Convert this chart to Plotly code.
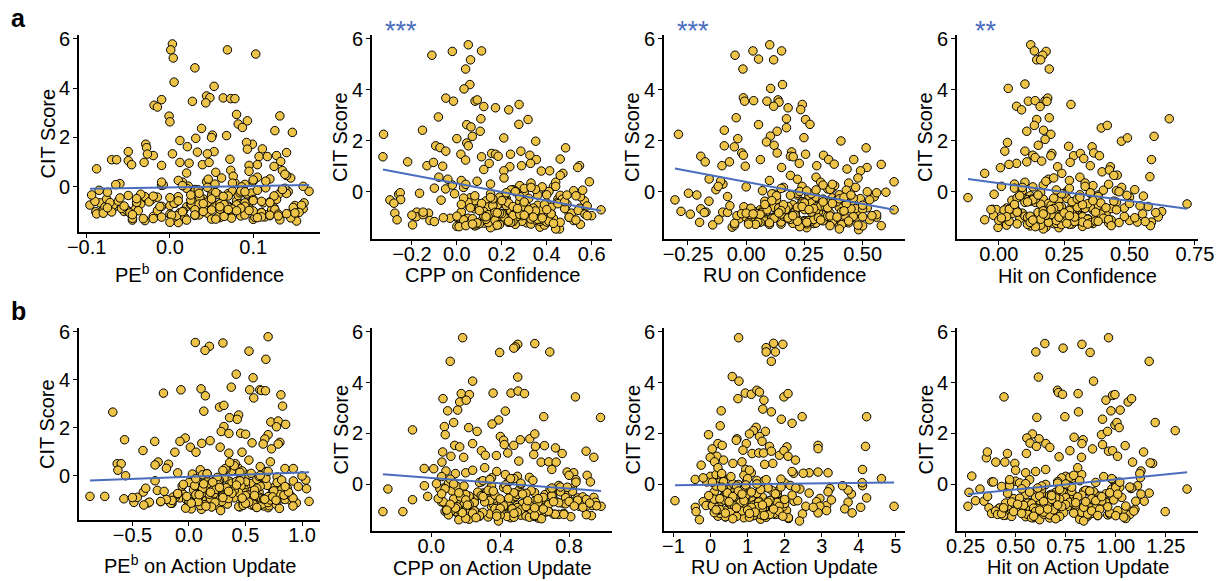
import plotly.graph_objects as go

W, H = 1221, 581

# ---------------- data ----------------
# CIT scores of the dense low cluster (shared by all panels)
cit_low = [
    -0.82, 0.12, -1.05, -0.35, -1.21, 0.45, -0.63, -0.94, -0.12, -1.33,
    -0.71, -0.28, -1.12, 0.31, -0.88, -0.50, -1.02, 0.05, -0.77, -1.26,
    -0.41, -0.99, 0.22, -1.15, -0.60, -0.19, -0.86, -1.38, 0.58, -0.67,
    -1.08, -0.33, -0.79, 0.18, -1.19, -0.55, -0.92, -0.05, -1.29, -0.73,
    0.38, -0.97, -0.45, -1.10, -0.23, -0.84, 0.09, -1.24, -0.62, -1.01,
    -0.38, -1.17, -0.70, 0.27, -0.90, -1.32, -0.15, -0.58, -1.06, 0.65,
    -0.80, -1.22, -0.30, -0.96, 0.02, -0.66, -1.14, -0.48, -0.87, -1.40,
    0.15, -0.75, -1.03, -0.26, -1.18, -0.52, -0.93, 0.35, -0.69, -1.27,
    -0.43, -1.09, -0.09, -0.83, -1.20, 0.50, -0.61, -0.98, -0.36, -1.13,
    -0.74, 0.07, -1.25, -0.57, -0.89, -0.20, -1.04, 0.25, -0.78, -1.30,
    -0.47, -0.95, -0.65, 0.42, -1.16, -0.32, -0.85, -1.07, -0.01, -0.72,
    -1.23, -0.53, 0.20, -0.91, -1.11, -0.40, -0.68, -1.35, 0.10, -0.81,
    -0.25, -1.00, -0.59, -1.19, 0.30, -0.76, -0.44, -1.28, -0.13, -0.93,
    -0.64, -1.15, 0.55, -0.87, -0.34, -1.06, -0.54, -1.45, -0.07, -0.79,
]
cit_low2 = [
    -0.92, -0.41, -1.18, -0.07, -0.66, -1.03, -0.28, -0.85, -1.24, -0.52,
    0.14, -0.77, -1.12, -0.36, -0.95, -0.60, -1.30, -0.18, -0.71, -1.05,
    -0.46, -0.89, 0.04, -1.16, -0.63, -0.31, -0.99, -1.21, -0.55, -0.11,
    -0.80, -1.08, -0.24, -0.68, 0.22, -0.94, -1.27, -0.43, -0.74, -1.01,
    -0.58, -0.15, -1.14, -0.83, -0.38, -1.36, -0.70, 0.08, -0.97, -0.50,
    -1.19, -0.27, -0.88, -0.62, -1.07, -0.03, -0.79, -1.23, -0.45, -0.91,
    -0.34, -1.10, -0.73, 0.18, -0.57, -1.32, -0.86, -0.21, -1.02, -0.65,
    -0.98, -0.49, -1.15, -0.12, -0.82, -0.39, -1.26, -0.69, 0.01, -0.93,
]

# Panel 1: PE^b on Confidence
p1_x_hi = [0.003, 0.001, 0.004, 0.069, 0.103, 0.030, 0.005, 0.053, 0.044, 0.048,
           0.043, 0.027, 0.064, 0.073, 0.078, -0.010, -0.019, -0.015, -0.001, 0.000,
           0.080, 0.093, 0.082, 0.087, 0.132, 0.126, 0.147, 0.038, 0.031, 0.051,
           0.068, 0.050, 0.012, -0.029, -0.028, 0.021, 0.099, 0.092, 0.111, 0.093,
           -0.050, 0.053, 0.033, 0.045, 0.003, 0.140, 0.128, 0.107, 0.117, -0.020,
           -0.027, -0.070, -0.064, -0.050, -0.046, -0.088, -0.031, -0.010, 0.012, 0.023,
           0.039, 0.047, 0.072, 0.095, 0.105, 0.133, 0.125, 0.095, 0.073, 0.145,
           -0.096, -0.089, -0.084, -0.076, -0.045, 0.010, 0.149, 0.156, 0.167, 0.161]
p1_y_hi = [5.79, 5.55, 5.22, 5.55, 5.38, 4.82, 4.24, 4.07, 3.68, 3.61,
           3.40, 3.46, 3.60, 3.57, 3.57, 3.53, 3.30, 3.23, 2.86, 2.63,
           2.93, 2.67, 2.54, 2.40, 2.87, 2.27, 2.20, 2.36, 1.96, 2.09,
           2.07, 1.99, 1.87, 1.72, 1.58, 1.62, 1.72, 1.79, 1.53, 1.52,
           1.42, 1.42, 1.40, 1.33, 1.33, 1.38, 1.26, 1.22, 1.22, 1.26,
           1.32, 1.09, 1.09, 1.05, 0.89, 0.72, 0.98, 0.86, 0.98, 0.95,
           0.89, 0.98, 1.11, 0.86, 0.89, 1.02, 0.82, 0.62, 0.66, 0.35,
           -0.75, -1.02, -0.66, -0.50, -1.36, -1.46, -1.17, -0.93, -0.19, -0.66]
p1_x_lo = [0.02, -0.06, 0.11, 0.05, -0.02, 0.14, 0.08, -0.08, 0.03, 0.10,
           -0.04, 0.07, 0.00, 0.12, -0.07, 0.04, 0.09, -0.01, 0.15, 0.06,
           0.01, -0.05, 0.10, 0.035, -0.09, 0.075, 0.125, -0.03, 0.055, 0.095,
           0.045, 0.13, -0.065, 0.015, 0.085, -0.025, 0.06, 0.115, -0.045, 0.025,
           0.105, -0.015, 0.065, 0.145, -0.075, 0.04, 0.09, 0.005, 0.12, -0.055,
           0.07, 0.03, -0.035, 0.10, 0.16, 0.05, -0.085, 0.08, 0.012, 0.135,
           -0.01, 0.058, 0.092, -0.052, 0.022, 0.112, 0.068, -0.028, 0.042, 0.152,
           0.078, -0.068, 0.032, 0.098, 0.008, 0.128, -0.042, 0.062, 0.088, 0.018,
           -0.018, 0.108, 0.048, -0.078, 0.072, 0.138, 0.028, -0.038, 0.082, 0.118,
           0.052, -0.008, 0.102, 0.038, -0.058, 0.142, 0.066, 0.01, 0.094, -0.032,
           0.036, 0.122, -0.072, 0.076, 0.002, 0.058, 0.148, -0.048, 0.086, 0.026,
           0.114, -0.022, 0.044, 0.096, -0.088, 0.064, 0.006, 0.132, 0.054, -0.012,
           0.084, 0.016, -0.062, 0.106, 0.046, 0.158, -0.03, 0.074, 0.034, 0.126,
           -0.04, 0.09, 0.02, 0.062, -0.094, 0.11, 0.05, 0.00, 0.138, 0.07]
p1_x_lo2 = [0.06, -0.03, 0.12, 0.02, 0.09, -0.07, 0.14, 0.04, -0.01, 0.10,
            0.075, 0.00, 0.13, -0.05, 0.05, 0.11, -0.02, 0.085, 0.035, 0.155,
            -0.06, 0.07, 0.015, 0.12, 0.045, -0.035, 0.10, 0.065, 0.025, 0.135,
            0.09, -0.08, 0.055, 0.005, 0.115, 0.03, 0.145, -0.015, 0.08, 0.04,
            0.01, 0.105, -0.045, 0.07, 0.125, 0.02, 0.06, -0.065, 0.095, 0.05,
            0.13, 0.035, 0.085, -0.025, 0.15, 0.045, -0.055, 0.11, 0.00, 0.075,
            0.025, 0.14, 0.065, -0.01, 0.10, 0.055, -0.075, 0.09, 0.015, 0.12,
            0.08, -0.04, 0.03, 0.135, 0.06, -0.02, 0.105, 0.04, 0.16, 0.07]

# Panel 2: CPP on Confidence
p2_x_hi = [0.051, 0.110, -0.020, -0.111, 0.061, 0.039, 0.058, 0.032, -0.049, -0.015,
           0.081, 0.091, 0.120, 0.172, 0.231, 0.277, 0.107, -0.082, 0.317, 0.276,
           0.044, 0.063, 0.069, 0.104, -0.153, -0.326, 0.000, 0.209, 0.351, 0.044,
           0.051, -0.094, -0.075, -0.049, 0.285, 0.484, 0.018, 0.155, 0.172, 0.239,
           0.184, 0.110, 0.325, 0.354, 0.460, 0.039, 0.144, -0.329, -0.219, -0.133,
           -0.104, -0.063, 0.288, 0.328, 0.546, 0.538, 0.590, 0.376, 0.413, 0.472,
           0.120, 0.236, 0.209,
           -0.298, -0.276, -0.266, -0.259, -0.252, -0.197, -0.178, -0.126, -0.166, 0.642,
           0.568, 0.546, 0.457]
p2_y_hi = [5.77, 5.53, 5.51, 5.36, 5.18, 4.82, 4.21, 4.04, 3.68, 3.56,
           3.56, 3.61, 3.35, 3.30, 3.22, 3.43, 2.87, 2.94, 2.84, 2.65,
           2.64, 2.55, 2.18, 2.38, 2.42, 2.26, 2.09, 2.12, 1.99, 1.92,
           1.81, 1.81, 1.74, 1.60, 1.60, 1.73, 1.48, 1.51, 1.48, 1.48,
           1.40, 1.38, 1.44, 1.27, 1.29, 1.25, 1.12, 1.38, 1.18, 1.03,
           1.16, 1.01, 1.03, 1.12, 1.03, 0.96, 0.40, 0.82, 0.83, 0.73,
           0.88, 0.99, 0.83,
           -0.31, -0.83, -1.09, -0.09, -0.03, -1.29, -0.79, -0.83, -0.05, -0.70,
           -0.35, -0.64, -1.45]
p2_x_lo = [0.22, -0.05, 0.41, 0.13, 0.31, 0.02, 0.48, 0.18, 0.36, 0.08,
           0.27, 0.45, -0.12, 0.15, 0.39, 0.05, 0.24, 0.52, 0.11, 0.33,
           0.19, 0.00, 0.43, 0.29, 0.07, 0.55, 0.21, 0.37, -0.08, 0.26,
           0.12, 0.47, 0.34, 0.03, 0.23, 0.58, 0.16, 0.40, 0.09, 0.30,
           0.44, -0.18, 0.20, 0.35, 0.06, 0.50, 0.25, 0.14, 0.38, 0.01,
           0.28, 0.42, 0.10, -0.02, 0.32, 0.17, 0.53, 0.23, 0.04, 0.46,
           0.35, 0.12, -0.25, 0.27, 0.41, 0.08, 0.20, 0.49, 0.30, 0.15,
           -0.10, 0.37, 0.05, 0.22, 0.44, 0.18, 0.60, 0.33, 0.10, 0.26,
           0.40, 0.03, 0.29, 0.51, 0.14, -0.04, 0.36, 0.21, 0.47, 0.11,
           0.24, 0.56, 0.07, 0.31, -0.15, 0.19, 0.43, 0.28, 0.02, 0.39,
           0.16, 0.34, 0.48, 0.09, 0.25, -0.07, 0.42, 0.13, 0.30, 0.54,
           0.06, 0.22, 0.38, -0.20, 0.17, 0.45, 0.27, 0.00, 0.35, 0.12,
           0.32, 0.50, 0.14, 0.24, 0.04, 0.40, -0.28, 0.19, 0.46, 0.29,
           0.10, 0.37, 0.21, 0.57, 0.08, 0.33, 0.16, 0.44, -0.01, 0.26]
p2_x_lo2 = [0.25, 0.05, 0.40, 0.15, 0.33, -0.03, 0.47, 0.20, 0.10, 0.36,
            0.30, 0.12, 0.52, 0.22, 0.00, 0.42, 0.18, 0.28, 0.38, 0.07,
            0.45, 0.14, 0.26, -0.10, 0.34, 0.21, 0.50, 0.09, 0.31, 0.40,
            0.17, 0.37, 0.03, 0.27, 0.44, 0.12, 0.55, 0.23, 0.35, -0.06,
            0.29, 0.08, 0.41, 0.19, 0.48, 0.01, 0.32, 0.24, 0.13, 0.39,
            0.46, 0.16, 0.28, 0.06, 0.36, 0.22, -0.15, 0.43, 0.11, 0.30,
            0.20, 0.53, 0.10, 0.33, 0.25, 0.04, 0.42, 0.15, 0.38, 0.27,
            0.34, 0.02, 0.23, 0.49, 0.18, 0.30, 0.07, 0.40, 0.26, 0.58]

# Panel 3: RU on Confidence
p3_x_hi = [0.101, 0.029, 0.152, -0.048, 0.053, 0.118, -0.014, 0.156, 0.105, -0.012,
           -0.007, 0.032, 0.089, 0.137, 0.141, 0.118, 0.180, 0.241, 0.234, -0.043,
           0.053, 0.255, 0.274, 0.173, 0.173, 0.133, 0.104, 0.087, -0.291, -0.094,
           -0.036, 0.248, 0.407, 0.120, -0.094, -0.051, 0.515, -0.019, -0.012, 0.133,
           0.195, 0.190, 0.202, 0.255, 0.332, -0.195, -0.176, -0.104, -0.072, -0.004,
           0.061, 0.152, 0.228, 0.303, 0.354, 0.378, 0.462, 0.519, 0.580, 0.433,
           0.491, 0.635, -0.159,
           -0.306, -0.248, -0.212, -0.195, -0.173, -0.144, -0.118, -0.101, 0.635, 0.560,
           0.483]
p3_y_hi = [5.77, 5.53, 5.53, 5.36, 5.21, 5.18, 4.82, 4.21, 4.06, 3.69,
           3.56, 3.58, 3.56, 3.61, 3.52, 3.36, 3.30, 3.43, 3.23, 2.91,
           2.64, 2.84, 2.65, 2.87, 2.52, 2.38, 2.19, 1.96, 2.26, 2.42,
           2.09, 2.13, 2.00, 1.83, 1.81, 1.77, 1.73, 1.53, 1.44, 1.53,
           1.57, 1.40, 1.38, 1.48, 1.44, 1.40, 1.18, 1.03, 1.18, 1.01,
           1.27, 0.96, 1.12, 1.03, 1.27, 1.09, 1.27, 0.96, 1.08, 0.90,
           0.83, 0.40, 0.51,
           -0.31, -0.05, -0.12, -0.66, -0.79, -1.29, -1.09, -0.79, -0.70, -0.99,
           -1.48]
p3_x_lo = [0.18, 0.35, -0.03, 0.27, 0.44, 0.10, 0.31, 0.05, 0.22, 0.50,
           0.13, 0.39, 0.25, -0.10, 0.33, 0.20, 0.47, 0.07, 0.29, 0.15,
           0.41, 0.00, 0.24, 0.36, 0.12, 0.55, 0.19, -0.06, 0.30, 0.43,
           0.09, 0.26, 0.48, 0.16, -0.20, 0.34, 0.04, 0.22, 0.40, 0.28,
           0.32, 0.14, 0.45, 0.02, 0.37, 0.21, -0.13, 0.29, 0.52, 0.11,
           0.24, 0.42, 0.06, 0.33, 0.17, 0.58, 0.27, -0.01, 0.38, 0.19,
           -0.08, 0.30, 0.13, 0.46, 0.23, 0.35, 0.08, 0.41, -0.24, 0.26,
           0.37, 0.03, 0.20, 0.49, 0.15, 0.31, -0.04, 0.44, 0.25, 0.10,
           0.28, 0.53, 0.12, 0.36, 0.01, 0.22, 0.40, 0.17, -0.16, 0.33,
           0.07, 0.43, 0.26, 0.18, 0.56, 0.30, 0.11, 0.38, 0.21, -0.05,
           0.34, 0.16, 0.47, -0.11, 0.25, 0.39, 0.05, 0.29, 0.60, 0.14,
           0.20, 0.32, 0.00, 0.42, 0.27, 0.09, 0.50, 0.23, 0.36, -0.18,
           0.45, 0.13, 0.30, 0.06, 0.37, -0.28, 0.24, 0.41, 0.19, 0.54,
           0.02, 0.28, 0.48, 0.15, 0.34, 0.22, -0.07, 0.40, 0.11, 0.31]
p3_x_lo2 = [0.20, 0.38, 0.05, 0.28, 0.45, 0.12, 0.33, -0.02, 0.24, 0.50,
            0.15, 0.41, 0.27, 0.08, 0.35, 0.22, 0.48, -0.08, 0.30, 0.18,
            0.43, 0.02, 0.26, 0.37, 0.14, 0.53, 0.21, 0.10, 0.32, 0.40,
            0.07, 0.29, 0.46, 0.17, -0.12, 0.36, 0.04, 0.25, 0.42, 0.31,
            0.34, 0.13, 0.44, 0.00, 0.39, 0.23, 0.09, 0.30, 0.50, 0.16,
            0.26, 0.40, 0.06, 0.35, 0.19, 0.56, 0.28, -0.05, 0.37, 0.21,
            0.11, 0.32, 0.15, 0.47, 0.24, 0.36, 0.03, 0.42, 0.18, 0.29,
            0.39, 0.08, 0.22, 0.45, 0.14, 0.33, 0.01, 0.27, 0.52, 0.20]

# Panel 4: Hit on Confidence
p4_x_hi = [0.122, 0.136, 0.181, 0.168, 0.145, 0.160, 0.193, 0.100, 0.036, 0.113,
           0.139, 0.177, 0.187, 0.184, 0.158, 0.068, 0.087, 0.276, 0.193, 0.145,
           0.136, 0.171, 0.107, 0.199, 0.177, 0.652, 0.392, 0.415, 0.469, 0.492,
           0.594, 0.033, 0.151, 0.267, 0.023, 0.100, 0.357, 0.363, 0.385, 0.203,
           0.199, 0.130, 0.286, 0.312, 0.325, 0.273, 0.139, 0.164, 0.068, 0.107,
           0.584, 0.350, 0.395, 0.427, 0.423, -0.054, 0.006, 0.039, 0.578, 0.225,
           0.241, 0.453, -0.118, 0.720,
           -0.054, -0.024, -0.018, -0.003, -0.009, 0.623, 0.584, 0.571, 0.553]
p4_y_hi = [5.77, 5.53, 5.51, 5.36, 5.18, 5.18, 4.82, 4.23, 4.06, 3.56,
           3.58, 3.58, 3.68, 3.55, 3.35, 3.36, 3.22, 3.43, 2.91, 2.84,
           2.61, 2.42, 2.38, 2.26, 2.06, 2.87, 2.51, 2.61, 1.99, 2.12,
           2.18, 1.94, 1.83, 1.79, 1.60, 1.60, 1.77, 1.53, 1.42, 1.51,
           1.42, 1.44, 1.42, 1.51, 1.31, 1.16, 1.35, 1.21, 1.12, 1.18,
           1.27, 1.03, 0.79, 0.99, 0.86, 0.73, 0.95, 1.08, 0.60, 0.99,
           0.73, 0.66, -0.22, -0.47,
           -1.09, -0.68, -0.09, -1.39, -0.69, -0.77, -1.18, -0.57, -0.16]
p4_x_lo = [0.21, 0.08, 0.34, 0.15, 0.42, 0.27, 0.03, 0.19, 0.38, 0.12,
           0.30, 0.17, 0.50, 0.06, 0.24, 0.36, 0.11, 0.45, 0.22, 0.28,
           0.14, 0.40, 0.01, 0.26, 0.33, 0.09, 0.55, 0.18, 0.31, 0.20,
           0.37, 0.05, 0.23, 0.47, 0.13, 0.29, -0.02, 0.35, 0.16, 0.25,
           0.10, 0.32, 0.19, 0.43, 0.07, 0.27, 0.52, 0.21, 0.39, 0.14,
           0.28, 0.02, 0.36, 0.17, 0.24, 0.58, 0.12, 0.31, 0.08, 0.44,
           0.20, 0.34, 0.11, 0.48, 0.26, 0.04, 0.30, 0.16, 0.41, 0.23,
           0.06, 0.29, 0.37, 0.13, 0.53, 0.22, 0.18, 0.33, -0.03, 0.27,
           0.35, 0.15, 0.25, 0.09, 0.46, 0.19, 0.32, 0.61, 0.12, 0.24,
           0.17, 0.40, 0.07, 0.28, 0.21, 0.50, 0.14, 0.36, 0.26, 0.03,
           0.31, 0.10, 0.43, 0.18, 0.56, 0.23, 0.05, 0.34, 0.16, 0.29,
           0.22, 0.38, 0.13, 0.27, 0.00, 0.45, 0.20, 0.32, 0.09, 0.60,
           0.26, 0.11, 0.35, 0.19, 0.42, 0.07, 0.30, 0.24, 0.49, 0.15,
           0.33, 0.04, 0.21, 0.39, 0.12, 0.28, 0.54, 0.17, 0.25, 0.37]
p4_x_lo2 = [0.18, 0.10, 0.32, 0.24, 0.05, 0.40, 0.14, 0.28, 0.36, 0.20,
            0.27, 0.07, 0.22, 0.44, 0.12, 0.30, 0.16, 0.38, 0.02, 0.25,
            0.34, 0.19, 0.09, 0.29, 0.48, 0.13, 0.23, 0.35, 0.06, 0.31,
            0.15, 0.42, 0.21, 0.04, 0.33, 0.26, 0.11, 0.39, 0.17, 0.52,
            0.24, 0.08, 0.37, 0.19, 0.28, 0.14, 0.45, 0.22, 0.03, 0.32,
            0.12, 0.30, 0.20, 0.41, 0.16, 0.35, 0.07, 0.26, 0.50, 0.18,
            0.36, 0.13, 0.27, 0.09, 0.23, 0.43, 0.17, 0.31, 0.01, 0.21,
            0.29, 0.06, 0.38, 0.15, 0.25, 0.11, 0.34, 0.20, 0.46, 0.27]

# Panel 5: PE^b on Action Update
p5_x_hi = [0.700, 0.056, 0.300, 0.181, 0.142, 0.531, 0.680, 0.418, 0.567, -0.071,
           0.107, 0.374, 0.626, 0.641, 0.677, 0.537, 0.573, 0.145, -0.226, 0.813,
           -0.674, 0.131, 0.270, 0.309, 0.828, 0.359, 0.439, 0.427, 0.724, 0.789,
           0.855, 0.774, 0.309, 0.285, 0.353, 0.457, 0.501, 0.700, 0.671, -0.570,
           -0.303, -0.033, -0.080, 0.113, 0.187, 0.558, 0.656, 0.804, -0.407, -0.125,
           0.012, 0.062, 0.276, 0.353, 0.469, 0.730, 0.789, -0.273, -0.181, -0.635,
           -0.600, -0.629, 0.849, 0.923,
           -0.876, -0.745, -0.576, -0.561, -0.487, -0.457, -0.404, -0.383, -0.359, -0.300,
           0.923, 0.967, 1.033, 1.062, 0.908, 0.864, 0.834]
p5_y_hi = [5.79, 5.55, 5.53, 5.39, 5.22, 5.19, 4.85, 4.23, 4.08, 3.58,
           3.62, 3.69, 3.58, 3.55, 3.54, 3.58, 3.24, 3.33, 3.44, 3.37,
           2.65, 2.69, 2.86, 2.93, 2.90, 2.42, 2.53, 2.35, 2.24, 2.28,
           2.14, 2.04, 2.05, 1.84, 1.76, 1.77, 1.73, 1.71, 1.53, 1.50,
           1.43, 1.57, 1.43, 1.35, 1.46, 1.37, 1.32, 1.39, 1.05, 0.98,
           1.19, 0.98, 1.19, 0.94, 0.98, 1.12, 1.32, 0.57, 0.48, 0.50,
           0.50, 0.23, 0.30, 0.30,
           -0.86, -0.86, -0.96, 0.00, -1.11, -0.90, -0.68, -0.52, -1.13, -0.21,
           -0.22, -0.45, -0.18, -1.07, -1.07, -0.49, -0.97]
p5_x_lo = [0.35, -0.10, 0.62, 0.15, 0.48, -0.30, 0.80, 0.22, 0.05, 0.70,
           0.42, 0.00, 0.58, -0.20, 0.28, 0.75, 0.12, 0.52, -0.05, 0.66,
           0.18, 0.85, 0.38, -0.15, 0.60, 0.25, 0.45, 0.02, 0.72, 0.32,
           -0.25, 0.55, 0.10, 0.68, 0.30, 0.47, -0.08, 0.78, 0.20, 0.40,
           0.63, 0.08, 0.50, -0.35, 0.36, 0.90, 0.16, 0.57, 0.27, -0.02,
           0.44, 0.70, 0.13, 0.33, -0.12, 0.60, 0.24, 0.82, 0.05, 0.53,
           0.30, -0.40, 0.65, 0.19, 0.46, 0.74, 0.00, 0.39, 0.58, 0.11,
           0.68, 0.22, -0.18, 0.50, 0.34, 0.87, 0.07, 0.43, 0.62, 0.26,
           -0.06, 0.56, 0.31, 0.76, 0.14, 0.41, -0.28, 0.64, 0.20, 0.95,
           0.37, 0.03, 0.71, 0.49, -0.14, 0.27, 0.59, 0.10, 0.80, 0.45,
           0.17, 0.66, -0.22, 0.40, 0.54, 0.08, 0.73, 0.29, 1.00, 0.35,
           0.61, 0.12, 0.47, -0.50, 0.23, 0.69, 0.38, -0.03, 0.55, 0.84,
           0.26, 0.50, 0.04, 0.77, 0.32, -0.10, 0.63, 0.44, 0.15, 0.92,
           0.57, -0.16, 0.36, 0.70, 0.19, 0.48, 1.04, 0.28, 0.65, 0.06]
p5_x_lo2 = [0.40, 0.05, 0.65, 0.25, 0.55, -0.15, 0.78, 0.30, 0.10, 0.60,
            0.45, 0.18, 0.70, -0.05, 0.35, 0.58, 0.20, 0.82, 0.50, 0.00,
            0.28, 0.62, 0.12, 0.48, 0.75, 0.38, -0.20, 0.55, 0.22, 0.68,
            0.52, 0.08, 0.42, 0.88, 0.30, 0.64, 0.15, 0.46, -0.10, 0.72,
            0.36, 0.60, 0.02, 0.50, 0.26, 0.80, 0.44, 0.16, 0.66, 0.33,
            0.57, 0.21, 0.74, 0.40, -0.25, 0.62, 0.09, 0.48, 0.85, 0.30,
            0.13, 0.53, 0.38, 0.70, 0.24, 0.60, -0.02, 0.45, 0.77, 0.35,
            0.67, 0.27, 0.50, 0.06, 0.58, 0.42, 0.92, 0.19, 0.63, 0.47]

# Panel 6: CPP on Action Update
p6_x_hi = [0.182, 0.502, 0.488, 0.601, 0.479, 0.397, 0.688, 0.110, 0.502, 0.240,
           0.359, 0.463, 0.504, 0.541, 0.174, 0.221, 0.068, 0.165, 0.203, 0.837,
           0.095, 0.153, 0.430, 0.391, 0.653, 0.983, 0.353, 0.130, 0.076, 0.081,
           -0.109, 0.217, 0.266, 0.240, 0.401, 0.420, 0.517, 0.572, 0.601, 0.136,
           0.165, 0.424, 0.479, 0.605, 0.657, 0.721, 0.760, 0.899, 0.944, 0.066,
           0.114, 0.188, 0.291, 0.314, 0.378, 0.444, 0.508, 0.595, 0.638, 0.682,
           0.725, 0.062, 0.014, -0.041, 0.085, 0.789, 0.827, 0.905, 0.924,
           -0.281, -0.252, -0.165, -0.109, -0.040, -0.021, 0.986, 0.934, 0.944, 0.953,
           0.851]
p6_y_hi = [5.77, 5.51, 5.41, 5.54, 5.36, 5.19, 5.21, 4.84, 4.22, 4.06,
           3.59, 3.59, 3.67, 3.57, 3.57, 3.53, 3.37, 3.24, 3.31, 3.44,
           2.89, 2.92, 2.88, 2.53, 2.66, 2.63, 2.37, 2.43, 2.27, 1.95,
           2.14, 2.23, 2.08, 1.60, 1.88, 1.73, 1.75, 1.79, 1.98, 1.53,
           1.47, 1.56, 1.53, 1.49, 1.52, 1.43, 1.21, 1.30, 1.06, 1.27,
           1.10, 1.06, 1.32, 1.14, 1.13, 1.23, 0.91, 1.17, 0.87, 0.88,
           0.87, 0.87, 0.61, 0.62, 0.52, 0.48, 0.45, 0.35, 0.09,
           -1.08, -0.19, -1.08, -0.61, -0.06, -0.48, -0.87, -0.84, -0.52, -0.71,
           -0.54]
p6_x_lo = [0.45, 0.12, 0.68, 0.30, 0.55, 0.20, 0.80, 0.38, 0.08, 0.62,
           0.25, 0.72, 0.15, 0.50, 0.35, 0.88, 0.42, 0.10, 0.58, 0.28,
           0.66, 0.18, 0.48, 0.77, 0.32, 0.05, 0.53, 0.22, 0.70, 0.40,
           0.14, 0.60, 0.36, 0.84, 0.26, 0.47, 0.09, 0.74, 0.33, 0.56,
           0.43, 0.21, 0.79, 0.11, 0.51, 0.65, 0.29, 0.93, 0.17, 0.39,
           0.70, 0.34, 0.06, 0.57, 0.24, 0.46, 0.82, 0.13, 0.61, 0.31,
           0.19, 0.52, 0.75, 0.37, 0.03, 0.64, 0.27, 0.49, 0.86, 0.16,
           0.59, 0.23, 0.41, 0.12, 0.71, 0.33, 0.54, 0.80, 0.07, 0.44,
           0.30, 0.67, 0.15, 0.50, 0.90, 0.38, 0.20, 0.62, 0.46, 0.10,
           0.76, 0.28, 0.55, 0.04, 0.42, 0.69, 0.18, 0.35, 0.83, 0.57,
           0.22, 0.47, 0.72, 0.14, 0.60, 0.32, 0.96, 0.08, 0.52, 0.25,
           0.40, 0.78, 0.11, 0.64, 0.30, 0.50, 0.87, 0.20, 0.45, 0.68,
           0.58, 0.16, 0.36, 0.74, 0.06, 0.53, 0.27, 0.81, 0.42, 0.13,
           0.34, 0.63, 0.24, 0.90, 0.48, 0.09, 0.70, 0.39, 0.19, 0.56]
p6_x_lo2 = [0.50, 0.20, 0.72, 0.35, 0.60, 0.12, 0.82, 0.42, 0.28, 0.65,
            0.30, 0.78, 0.18, 0.55, 0.40, 0.90, 0.48, 0.08, 0.62, 0.25,
            0.70, 0.15, 0.52, 0.38, 0.85, 0.27, 0.58, 0.10, 0.45, 0.75,
            0.22, 0.66, 0.33, 0.80, 0.46, 0.14, 0.60, 0.37, 0.92, 0.52,
            0.40, 0.70, 0.24, 0.57, 0.06, 0.64, 0.31, 0.84, 0.47, 0.17,
            0.77, 0.36, 0.55, 0.20, 0.68, 0.43, 0.11, 0.60, 0.29, 0.88,
            0.16, 0.50, 0.74, 0.34, 0.62, 0.26, 0.83, 0.44, 0.09, 0.56,
            0.65, 0.30, 0.48, 0.79, 0.21, 0.53, 0.38, 0.71, 0.13, 0.60]

# Panel 7: RU on Action Update
p7_x_hi = [0.757, 1.70, 1.50, 1.95, 1.50, 1.75, 1.64, 0.586, 0.766, 0.937,
           1.10, 1.25, 1.32, 1.44, 0.739, 1.98, 2.09, 1.64, 1.41, 0.288,
           2.47, 4.21, 1.91, 2.20, 0.261, 1.23, 1.16, 1.48, 1.05, -0.054,
           0.712, 0.694, 1.32, 1.39, 0.198, 0.315, 0.964, 1.59, 2.06, 4.18,
           2.90, 2.90, 0.045, 0.874, 1.12, 1.30, 1.43, 1.64, 1.86, 1.98,
           0.171, -0.009, 0.108, 0.351, 0.604, 0.847, 2.09, 2.29, 1.68, 1.46,
           4.10, 4.61, 3.17, 2.90, 2.66, 2.50, 2.24, -0.252, -0.414,
           -0.960, 4.95, 4.21, 4.05, 4.10, 4.09, 3.80, 3.71, 3.56, 3.71,
           3.62, 3.82, 3.22, 3.17, 2.95, 2.86, 3.13, 3.26, 2.95, 2.90,
           2.66, 2.57, 2.48, 2.41, 2.77, 3.13, -0.41, -0.39, -0.20, -0.12]
p7_y_hi = [5.77, 5.55, 5.38, 5.51, 5.21, 5.21, 4.84, 4.24, 4.06, 3.59,
           3.54, 3.70, 3.63, 3.31, 3.37, 3.44, 3.57, 2.85, 2.96, 2.89,
           2.66, 2.66, 2.56, 2.40, 2.30, 2.24, 2.11, 2.08, 1.98, 1.95,
           1.79, 1.73, 1.88, 1.69, 1.60, 1.53, 1.60, 1.49, 1.47, 1.49,
           1.53, 1.40, 1.39, 1.34, 1.21, 1.23, 1.23, 1.30, 1.14, 1.32,
           1.10, 1.06, 0.88, 0.95, 0.82, 0.88, 1.10, 0.95, 0.82, 0.78,
           0.58, 0.22, 0.45, 0.48, 0.45, 0.43, 0.43, 0.75, 0.19,
           -0.65, -0.87, -0.54, -0.91, -0.06, 0.06, -0.39, -0.23, -0.06, -0.71,
           -0.97, -1.13, -0.17, -0.30, -0.56, -0.69, -0.84, -0.62, -0.87, -1.13,
           -0.35, -0.87, -1.17, -0.19, -0.91, -1.04, -0.91, -1.08, -0.69, -0.84]
p7_x_lo = [0.90, 0.30, 1.50, 0.60, 1.90, 1.10, 0.10, 1.30, 0.75, 2.10,
           1.20, 0.45, 1.70, 0.00, 0.85, 1.40, 0.55, 2.00, 1.05, 0.20,
           0.65, 1.60, 0.35, 1.15, 1.85, 0.80, 0.05, 1.35, 0.95, 2.25,
           1.45, 0.50, 1.00, 0.25, 1.75, 0.70, 1.25, 2.15, 0.40, 1.55,
           0.15, 1.10, 0.60, 1.95, 0.85, 1.30, -0.10, 0.95, 1.65, 0.45,
           1.80, 0.70, 1.20, 0.30, 1.50, 0.90, 2.30, 0.55, 1.05, 0.20,
           0.80, 1.40, 0.10, 1.70, 0.60, 1.15, 1.90, 0.35, 1.00, -0.30,
           1.25, 0.50, 2.05, 0.75, 1.55, 0.00, 1.35, 0.90, 1.85, 0.65,
           0.40, 1.60, 0.95, 0.15, 1.20, 2.20, 0.55, 1.45, 0.80, 1.05,
           1.75, 0.25, 1.10, 0.70, 1.95, 0.45, 1.30, -0.20, 0.85, 1.50,
           0.60, 1.00, 2.35, 0.30, 1.65, 0.90, 0.05, 1.40, 0.75, 1.80,
           1.15, 0.50, 1.90, 0.20, 1.25, 0.65, 1.55, 2.10, 0.35, 1.00,
           0.85, 1.70, 0.10, 1.35, 0.55, 2.00, 0.95, 0.40, 1.45, 0.70,
           1.60, 0.25, 1.05, 1.85, 0.60, 1.20, 0.80, 2.40, 0.15, 1.30]
p7_x_lo2 = [1.00, 0.50, 1.60, 0.70, 1.30, 0.20, 1.80, 0.90, 1.15, 0.40,
            1.45, 0.80, 0.10, 1.25, 0.60, 2.00, 1.05, 0.35, 1.55, 0.85,
            0.65, 1.35, 0.95, 1.70, 0.45, 1.10, 0.25, 1.50, 0.75, 1.90,
            1.20, 0.55, 1.65, 0.30, 1.00, 1.40, 0.70, 2.20, 0.90, 0.15,
            0.85, 1.55, 0.40, 1.15, 1.75, 0.60, 1.30, 0.05, 1.05, 0.50,
            1.60, 0.75, 1.25, 0.35, 1.85, 0.95, 0.55, 1.45, -0.05, 1.10,
            0.45, 1.20, 0.80, 1.50, 0.25, 2.10, 0.65, 1.35, 1.00, 0.90,
            1.70, 0.60, 1.05, 0.30, 1.40, 0.85, 1.95, 0.50, 1.25, 0.70]

# Panel 8: Hit on Action Update
p8_x_hi = [0.964, 0.646, 0.831, 0.601, 0.737, 0.872, 1.167, 0.614, 0.889, 0.709,
           0.714, 0.734, 0.812, 0.442, 0.951, 0.984, 0.996, 1.062, 1.079, 0.814,
           0.976, 1.022, 0.606, 0.746, 0.934, 0.996, 1.006, 1.017, 1.197, 1.297,
           0.929, 0.959, 0.584, 0.556, 0.617, 0.792, 0.837, 0.831, 0.572, 0.604,
           0.651, 0.671, 0.934, 1.047, 0.354, 0.359, 0.459, 0.554, 0.717, 0.771,
           0.829, 0.884, 0.964, 0.984, 1.009, 1.139, 1.084, 1.184, 0.401, 0.446,
           0.496, 0.281, 0.381, 0.389, 1.172, 1.126, 1.123,
           0.267, 0.262, 0.300, 0.342, 0.367, 0.417, 0.322, 1.356, 1.247, 1.142,
           1.167, 1.126, 1.096, 1.109, 1.076]
p8_y_hi = [5.77, 5.54, 5.51, 5.21, 5.36, 5.19, 4.84, 4.22, 4.06, 3.70,
           3.61, 3.54, 3.57, 3.44, 3.31, 3.50, 3.53, 3.24, 3.37, 2.85,
           2.89, 2.92, 2.63, 2.66, 2.56, 2.33, 2.43, 2.23, 2.43, 2.11,
           1.95, 2.08, 1.98, 1.82, 1.79, 1.85, 1.75, 1.60, 1.62, 1.49,
           1.60, 1.45, 1.56, 1.52, 1.04, 1.27, 1.21, 1.21, 1.08, 1.32,
           1.06, 1.39, 1.30, 1.32, 1.10, 1.27, 0.87, 0.82, 0.87, 0.87,
           0.82, 0.32, 0.09, 0.09, 0.84, 0.52, 0.26,
           -0.32, -0.87, -0.65, -0.67, -0.93, -0.95, -0.19, -0.19, -1.08, -0.67,
           -0.35, -0.39, -0.99, -0.06, -0.17]
p8_x_lo = [0.72, 0.50, 0.88, 0.62, 0.96, 0.55, 0.80, 0.42, 1.02, 0.67,
           0.58, 0.84, 0.46, 0.75, 0.92, 0.64, 1.06, 0.52, 0.70, 0.86,
           0.90, 0.60, 0.78, 0.38, 0.68, 0.98, 0.54, 0.82, 0.65, 1.10,
           0.48, 0.74, 0.94, 0.57, 0.85, 0.66, 0.44, 1.00, 0.71, 0.60,
           0.83, 0.53, 0.69, 1.04, 0.61, 0.79, 0.47, 0.91, 0.73, 0.56,
           0.63, 0.97, 0.50, 0.77, 0.87, 0.59, 1.08, 0.68, 0.40, 0.81,
           0.76, 0.45, 0.89, 0.66, 0.55, 0.95, 0.72, 0.36, 0.84, 0.62,
           0.99, 0.70, 0.51, 0.86, 0.64, 1.03, 0.58, 0.79, 0.93, 0.48,
           0.67, 0.82, 0.43, 0.74, 1.07, 0.60, 0.88, 0.53, 0.77, 0.97,
           0.56, 0.90, 0.69, 0.49, 0.80, 0.63, 1.01, 0.73, 0.58, 0.85,
           0.92, 0.61, 0.78, 1.12, 0.54, 0.70, 0.46, 0.87, 0.65, 0.95,
           0.44, 0.75, 0.98, 0.57, 0.83, 0.68, 0.52, 1.05, 0.71, 0.80,
           0.86, 0.59, 0.72, 0.41, 0.94, 0.64, 0.79, 0.55, 1.00, 0.67,
           0.62, 0.88, 0.50, 0.76, 0.60, 1.09, 0.70, 0.84, 0.47, 0.93]
p8_x_lo2 = [0.70, 0.55, 0.86, 0.63, 0.93, 0.50, 0.78, 0.66, 1.00, 0.60,
            0.82, 0.58, 0.74, 0.46, 0.90, 0.68, 1.04, 0.53, 0.77, 0.88,
            0.62, 0.96, 0.71, 0.43, 0.80, 0.57, 0.92, 0.67, 0.52, 1.07,
            0.75, 0.49, 0.85, 0.64, 0.98, 0.59, 0.72, 0.83, 0.45, 0.69,
            0.89, 0.61, 0.79, 0.54, 0.95, 0.70, 0.48, 1.02, 0.65, 0.81,
            0.56, 0.87, 0.73, 0.99, 0.60, 0.76, 0.51, 0.91, 0.68, 0.84,
            0.97, 0.64, 0.80, 0.47, 0.88, 0.58, 1.05, 0.72, 0.62, 0.90,
            0.66, 0.93, 0.53, 0.78, 0.71, 1.01, 0.59, 0.85, 0.75, 0.44]

# linear-fit parameters (slope, intercept)
fit_slope = [0.57, -1.66, -1.72, -1.39, 0.18, -0.52, 0.0186, 0.79]
fit_intercept = [-0.035, 0.332, 0.394, 0.343, -0.042, 0.244, -0.022, -0.603]

x_titles = ["PE<sup>b</sup> on Confidence", "CPP on Confidence", "RU on Confidence",
            "Hit on Confidence", "PE<sup>b</sup> on Action Update", "CPP on Action Update",
            "RU on Action Update", "Hit on Action Update"]
x_tickvals = [[-0.1, 0.0, 0.1], [-0.2, 0.0, 0.2, 0.4, 0.6], [-0.25, 0.0, 0.25, 0.5],
              [0.0, 0.25, 0.5, 0.75], [-0.5, 0.0, 0.5, 1.0], [0.0, 0.4, 0.8],
              [-1, 0, 1, 2, 3, 4, 5], [0.25, 0.5, 0.75, 1.0, 1.25]]
x_tickformat = [".1f", ".1f", ".2f", ".2f", ".1f", ".1f", "d", ".2f"]
y_tickvals = [0, 2, 4, 6]
y_title = "CIT Score"
stars = ["", "***", "***", "**", "", "", "", ""]
panel_letters = ["a", "b"]

# ---------------- layout geometry (pixels) ----------------
boxes = [(79, 320, 35, 232), (372, 612, 35, 239), (664, 905, 35, 239), (957, 1198, 35, 239),
         (79, 320, 328, 520), (372, 612, 328, 531), (664, 905, 328, 531), (957, 1198, 328, 531)]
xtitle_y = [273, 275, 275, 276, 564, 568, 567, 567]

FONT = "Liberation Sans, Arial, sans-serif"
FILL = "#EDC447"
BLUE = "#4A6DBE"

panels = [(p1_x_hi, p1_y_hi, p1_x_lo, p1_x_lo2), (p2_x_hi, p2_y_hi, p2_x_lo, p2_x_lo2),
          (p3_x_hi, p3_y_hi, p3_x_lo, p3_x_lo2), (p4_x_hi, p4_y_hi, p4_x_lo, p4_x_lo2),
          (p5_x_hi, p5_y_hi, p5_x_lo, p5_x_lo2), (p6_x_hi, p6_y_hi, p6_x_lo, p6_x_lo2),
          (p7_x_hi, p7_y_hi, p7_x_lo, p7_x_lo2), (p8_x_hi, p8_y_hi, p8_x_lo, p8_x_lo2)]

all_y = []
for xh, yh, xl, xl2 in panels:
    all_y += list(yh) + list(cit_low) + list(cit_low2)
ymin, ymax = min(all_y), max(all_y)
yspan = ymax - ymin
yrange = [ymin - 0.05 * yspan, ymax + 0.05 * yspan]

fig = go.Figure()
layout = dict(width=W, height=H, margin=dict(l=0, r=0, t=0, b=0, autoexpand=False),
              paper_bgcolor="white", plot_bgcolor="white", showlegend=False,
              font=dict(family=FONT, color="black"))
annotations = []
line_traces = []

for i, (xh, yh, xl, xl2) in enumerate(panels):
    n = i + 1
    xs, ys = [], []
    for a, b in zip(xh, yh):
        xs.append(a); ys.append(b)
    for a, b in zip(xl, cit_low):
        xs.append(a); ys.append(b)
    for a, b in zip(xl2, cit_low2):
        xs.append(a); ys.append(b)
    xa = "x" if n == 1 else f"x{n}"
    ya = "y" if n == 1 else f"y{n}"
    fig.add_trace(go.Scatter(x=xs, y=ys, mode="markers", xaxis=xa, yaxis=ya,
                             marker=dict(size=8.5, color=FILL,
                                         line=dict(color="black", width=1)),
                             hoverinfo="skip"))
    x0, x1 = min(xs), max(xs)
    xspan = x1 - x0
    lx = [x0, x1]
    ly = [fit_intercept[i] + fit_slope[i] * v for v in lx]
    line_traces.append(go.Scatter(x=lx, y=ly, mode="lines", xaxis=xa, yaxis=ya,
                                  line=dict(color=BLUE, width=2), hoverinfo="skip"))
    L, R, T, B = boxes[i]
    axis_common = dict(showline=True, linecolor="black", linewidth=1.6, ticks="outside",
                       ticklen=4, tickwidth=1.3, tickcolor="black", showgrid=False,
                       zeroline=False, automargin=False,
                       tickfont=dict(size=20, color="black", family=FONT))
    layout["xaxis" if n == 1 else f"xaxis{n}"] = dict(
        domain=[L / W, R / W], anchor=ya, range=[x0 - 0.05 * xspan, x1 + 0.05 * xspan],
        tickvals=x_tickvals[i], tickformat=x_tickformat[i], ticklabelstandoff=-8,
        **axis_common)
    layout["yaxis" if n == 1 else f"yaxis{n}"] = dict(
        domain=[1 - B / H, 1 - T / H], anchor=xa, range=yrange,
        tickvals=y_tickvals, ticklabelstandoff=-1, **axis_common)
    annotations.append(dict(text=y_title, x=(L - 32) / W, y=1 - (T + B) / 2 / H,
                            xref="paper", yref="paper", textangle=-90, showarrow=False,
                            xanchor="center", yanchor="middle",
                            font=dict(size=20, color="black", family=FONT)))
    annotations.append(dict(text=x_titles[i], x=(L + R) / 2 / W, y=1 - xtitle_y[i] / H,
                            xref="paper", yref="paper", showarrow=False,
                            xanchor="center", yanchor="middle",
                            font=dict(size=20, color="black", family=FONT)))
    if stars[i]:
        annotations.append(dict(text=stars[i], x=(L + 29) / W, y=1 - 31 / H,
                                xref="paper", yref="paper", showarrow=False,
                                xanchor="center", yanchor="middle",
                                font=dict(size=27, color=BLUE, family=FONT)))

for tr in line_traces:
    fig.add_trace(tr)

annotations.append(dict(text="<b>" + panel_letters[0] + "</b>", x=18 / W, y=1 - 18 / H,
                        xref="paper", yref="paper", showarrow=False,
                        xanchor="center", yanchor="middle",
                        font=dict(size=25, color="black", family=FONT)))
annotations.append(dict(text="<b>" + panel_letters[1] + "</b>", x=18 / W, y=1 - 311 / H,
                        xref="paper", yref="paper", showarrow=False,
                        xanchor="center", yanchor="middle",
                        font=dict(size=25, color="black", family=FONT)))
layout["annotations"] = annotations
fig.update_layout(**layout)
fig.write_html("out.html", config={"displayModeBar": False},
               post_script="document.body.style.margin='0px';document.body.style.padding='0px';")
